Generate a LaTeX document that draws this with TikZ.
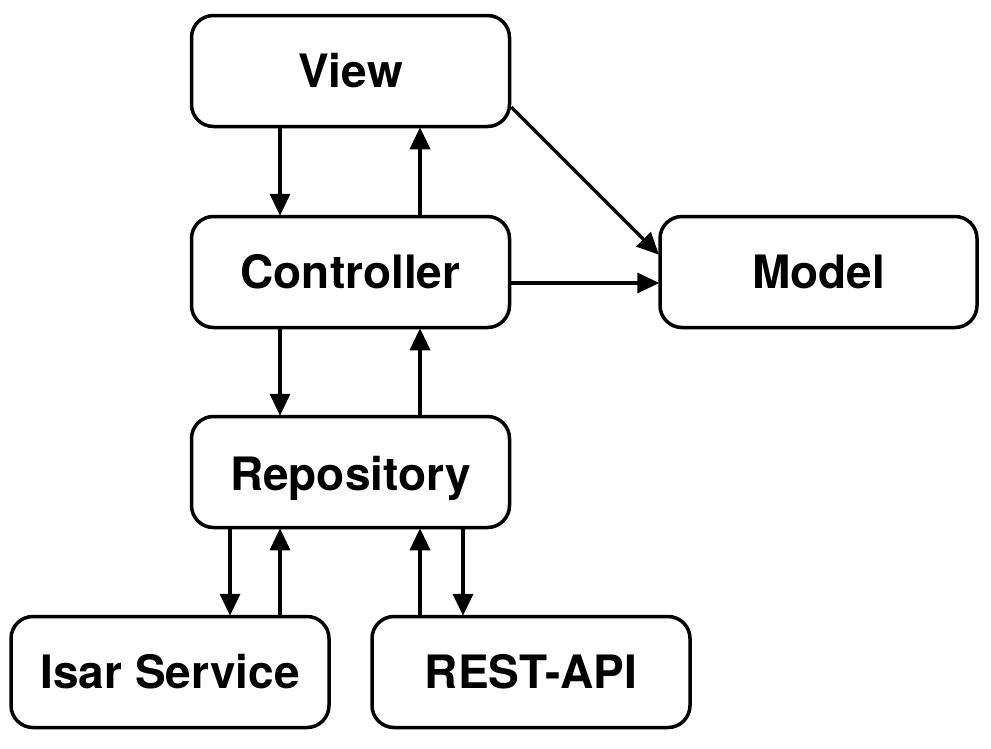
\documentclass[tikz,border=0pt]{standalone}
\usepackage{fontspec}
\setmainfont{TeX Gyre Heros}
\usetikzlibrary{arrows.meta}
\tikzset{
  box/.style={draw, line width=3.5pt, rounded corners=22pt, minimum width=318pt, minimum height=111pt, inner sep=0pt, font=\fontsize{46}{54}\selectfont\bfseries},
  arr/.style={line width=3.5pt, -{Triangle[length=22pt,width=20pt]}, shorten >=-1pt}
}
\begin{document}
\begin{tikzpicture}[x=1pt,y=-1pt]
\useasboundingbox (0,0) rectangle (991,748);
\node[box] (view) at (350.5,71) {View};
\node[box] (ctrl) at (350.5,272) {Controller};
\node[box, minimum width=317pt] (model) at (818.5,272) {Model};
\node[box] (repo) at (350.5,472) {\raisebox{-6pt}[\height][\depth]{Repository}};
\node[box] (isar) at (170,672) {Isar Service};
\node[box] (rest) at (531,672) {REST-API};
\draw[arr] ([xshift=-70.5pt]view.south) -- ([xshift=-70.5pt]ctrl.north);
\draw[arr] ([xshift=69.5pt]ctrl.north) -- ([xshift=69.5pt]view.south);
\draw[arr] ([yshift=-36pt]view.east) -- ([yshift=18pt]model.west);
\draw[arr] ([yshift=-11pt]ctrl.east) -- ([yshift=-11pt]model.west);
\draw[arr] ([xshift=-70.5pt]ctrl.south) -- ([xshift=-70.5pt]repo.north);
\draw[arr] ([xshift=69.5pt]repo.north) -- ([xshift=69.5pt]ctrl.south);
\draw[arr] ([xshift=-120.5pt]repo.south) -- ([xshift=60pt]isar.north);
\draw[arr] ([xshift=110pt]isar.north) -- ([xshift=-70.5pt]repo.south);
\draw[arr] ([xshift=-111pt]rest.north) -- ([xshift=69.5pt]repo.south);
\draw[arr] ([xshift=112.5pt]repo.south) -- ([xshift=-68pt]rest.north);
\end{tikzpicture}
\end{document}
